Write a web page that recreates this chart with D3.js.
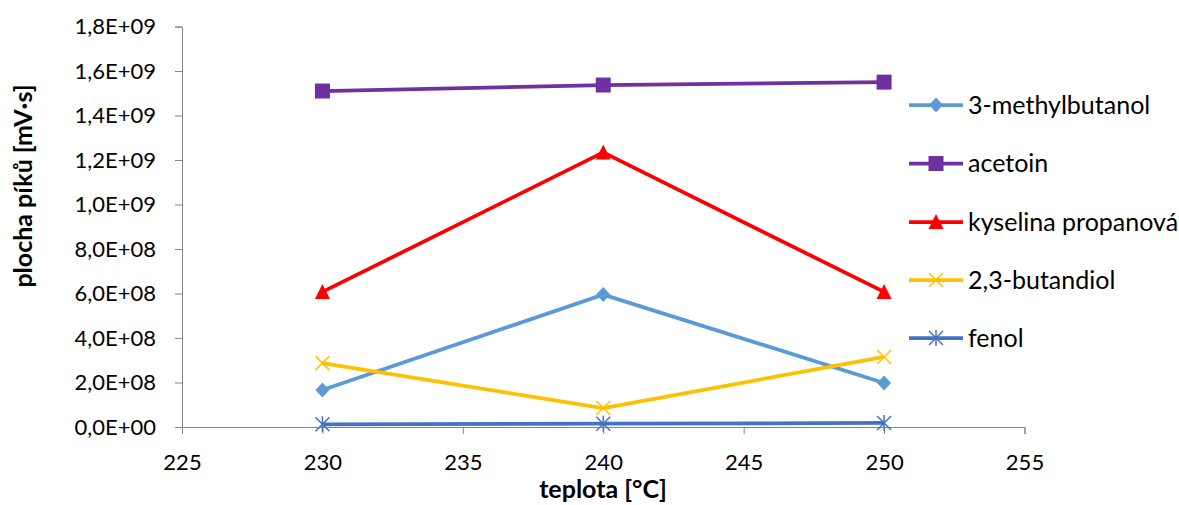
<!DOCTYPE html>
<html><head><meta charset="utf-8">
<script src="https://cdn.jsdelivr.net/npm/d3@7"></script>
<style>body{margin:0;background:#fff}svg{display:block}text{font-family:Lato,"Open Sans",sans-serif;fill:#000}</style>
</head><body>
<svg id="c" width="1179" height="505"></svg>
<script>
const temps = [230, 240, 250];
const seriesNames = ["3-methylbutanol", "acetoin", "kyselina propanová", "2,3-butandiol", "fenol"];
const methylbutanol = [1.66e8, 5.95e8, 1.98e8];
const acetoin = [1.51e9, 1.537e9, 1.55e9];
const kyselinaPropanova = [6.07e8, 1.234e9, 6.07e8];
const butandiol = [2.87e8, 8.5e7, 3.15e8];
const fenol = [1.2e7, 1.5e7, 1.8e7];
const xTicks = [225, 230, 235, 240, 245, 250, 255];
const yTicks = [0, 2e8, 4e8, 6e8, 8e8, 1e9, 1.2e9, 1.4e9, 1.6e9, 1.8e9];
const yTickLabels = ["0,0E+00","2,0E+08","4,0E+08","6,0E+08","8,0E+08","1,0E+09","1,2E+09","1,4E+09","1,6E+09","1,8E+09"];

const colors = ["#5B9BD5", "#7030A0", "#FF0000", "#FFC000", "#4472C4"];
const markers = ["diamond", "square", "triangle", "x", "star"];
const data = [methylbutanol, acetoin, kyselinaPropanova, butandiol, fenol];

const svg = d3.select("#c");
const x = d3.scaleLinear().domain([225, 255]).range([182, 1024.5]);
const y = d3.scaleLinear().domain([0, 1.8e9]).range([427, 26.5]);
const axisColor = "#868686";

const xAxis = svg.append("g").attr("transform", "translate(0,427)")
  .call(d3.axisBottom(x).tickValues(xTicks).tickSize(7).tickPadding(20).tickFormat(d3.format("d")));
const yAxis = svg.append("g").attr("transform", "translate(182,0)")
  .call(d3.axisLeft(y).tickValues(yTicks).tickSize(7).tickPadding(19).tickFormat((d,i)=>yTickLabels[i]));
[xAxis, yAxis].forEach(a => {
  a.select(".domain").attr("stroke", axisColor).attr("stroke-width", 1);
  a.selectAll(".tick line").attr("stroke", axisColor);
  a.selectAll(".tick text").style("font-size", "22px").attr("fill", "#000");
});

svg.append("text").attr("x", 603).attr("y", 498).attr("text-anchor", "middle")
  .style("font-size", "25px").style("font-weight", "bold").text("teplota [°C]");
svg.append("text").attr("transform", "translate(32,186) rotate(-90)").attr("text-anchor", "middle")
  .style("font-size", "25px").style("font-weight", "bold").text("plocha píků [mV·s]");

function drawMarker(g, type, cx, cy, color) {
  if (type === "diamond") {
    g.append("path").attr("d", `M${cx},${cy-7.5}L${cx+7},${cy}L${cx},${cy+7.5}L${cx-7},${cy}Z`).attr("fill", color);
  } else if (type === "square") {
    g.append("rect").attr("x", cx-7.5).attr("y", cy-7.5).attr("width", 15).attr("height", 15).attr("fill", color);
  } else if (type === "triangle") {
    g.append("path").attr("d", `M${cx},${cy-8}L${cx+7.5},${cy+7}L${cx-7.5},${cy+7}Z`).attr("fill", color);
  } else if (type === "x") {
    g.append("path").attr("d", `M${cx-7},${cy-7}L${cx+7},${cy+7}M${cx-7},${cy+7}L${cx+7},${cy-7}`).attr("stroke", color).attr("stroke-width", 1.5);
  } else if (type === "star") {
    g.append("path").attr("d", `M${cx-7},${cy-7}L${cx+7},${cy+7}M${cx-7},${cy+7}L${cx+7},${cy-7}M${cx},${cy-8}L${cx},${cy+8}`).attr("stroke", color).attr("stroke-width", 1.5);
  }
}

const line = d3.line().x((d,i) => x(temps[i])).y(d => y(d));
data.forEach((vals, s) => {
  const g = svg.append("g");
  g.append("path").datum(vals).attr("d", line).attr("fill", "none")
    .attr("stroke", colors[s]).attr("stroke-width", 3.75).attr("stroke-linejoin", "round");
  vals.forEach((v, i) => drawMarker(g, markers[s], x(temps[i]), y(v), colors[s]));
});

const legY = [105, 163.5, 222, 280, 338];
seriesNames.forEach((name, s) => {
  const g = svg.append("g");
  g.append("line").attr("x1", 909).attr("x2", 963).attr("y1", legY[s]).attr("y2", legY[s])
    .attr("stroke", colors[s]).attr("stroke-width", 3.75);
  drawMarker(g, markers[s], 936, legY[s], colors[s]);
  g.append("text").attr("x", 968).attr("y", legY[s]).attr("dy", "0.35em")
    .style("font-size", "25px").text(name);
});
</script>
</body></html>
